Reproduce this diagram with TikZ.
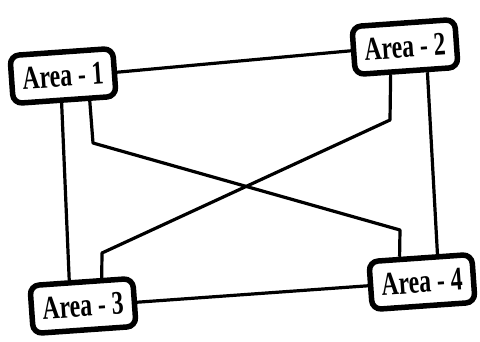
\documentclass[tikz,border=0pt]{standalone}
\usepackage{fontspec}
\usepackage{graphicx}
\setmainfont{Liberation Serif}
\usetikzlibrary{calc,backgrounds}
\begin{document}
\begin{tikzpicture}[x=1pt,y=-1pt,
  area/.style={draw, line width=5.5pt, rounded corners=9pt, fill=white,
    minimum width=103pt, minimum height=48pt, inner sep=0pt, rotate=4,
    font=\fontsize{33}{33}\selectfont\bfseries},
  link/.style={line width=3.2pt, line join=round}]
\useasboundingbox (0,0) rectangle (480,341);
\node[area] (a1) at (63,76) {\scalebox{0.72}[1]{Area - 1}};
\node[area] (a2) at (405,47) {\scalebox{0.72}[1]{Area - 2}};
\node[area] (a3) at (83,306) {\scalebox{0.72}[1]{Area - 3}};
\node[area] (a4) at (422,282) {\scalebox{0.72}[1]{Area - 4}};
\begin{scope}[on background layer]
  \draw[link] (a1.east) -- (a2.west);
  \draw[link] (a3.east) -- (a4.west);
  \draw[link] ($(a1.south west)!0.47!(a1.south east)$) -- ($(a3.north west)!0.39!(a3.north east)$);
  \draw[link] ($(a2.south west)!0.69!(a2.south east)$) -- ($(a4.north west)!0.66!(a4.north east)$);
  \coordinate (b1) at (93,143);
  \coordinate (b2) at (400,230);
  \draw[link] ($(a1.south west)!0.73!(a1.south east)$) -- (b1) -- (b2) -- ($(a4.north west)!0.31!(a4.north east)$);
  \coordinate (c1) at (390,120);
  \coordinate (c2) at (102,253);
  \draw[link] ($(a2.south west)!0.35!(a2.south east)$) -- (c1) -- (c2) -- ($(a3.north west)!0.69!(a3.north east)$);
\end{scope}
\end{tikzpicture}
\end{document}
